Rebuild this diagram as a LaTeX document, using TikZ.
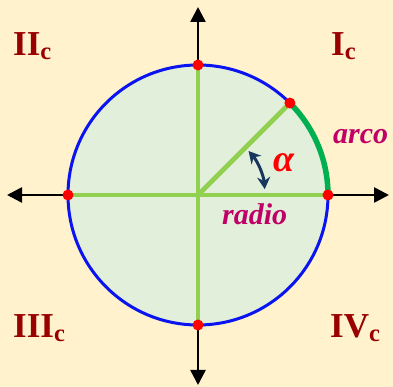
\documentclass[tikz,border=0pt]{standalone}
\usepackage{fontspec}
\setmainfont{Liberation Serif}
\usetikzlibrary{arrows.meta,calc}
\definecolor{bgc}{HTML}{FFF2CC}
\definecolor{fillc}{HTML}{E2EFDA}
\definecolor{circc}{HTML}{0A14F0}
\definecolor{radc}{HTML}{92D050}
\definecolor{arcc}{HTML}{00B050}
\definecolor{numc}{HTML}{990000}
\definecolor{labc}{HTML}{C00066}
\definecolor{angc}{HTML}{17375E}
\tikzset{
  axis/.style={line width=2.6pt, draw=black, {Triangle[length=15pt,width=15pt]}-{Triangle[length=15pt,width=15pt]}},
  radline/.style={line width=4.8pt, draw=radc},
  dot/.style={circle, fill=red, inner sep=0pt, minimum size=11pt},
  quad/.style={text=numc, font=\bfseries\fontsize{35}{35}\selectfont, anchor=base west, inner sep=0pt},
  lab/.style={text=labc, font=\bfseries\itshape\fontsize{30}{30}\selectfont, anchor=base west, inner sep=0pt},
}
\begin{document}
\begin{tikzpicture}[x=1pt,y=1pt]
\fill[bgc] (0,0) rectangle (393,387);
\useasboundingbox (0,0) rectangle (393,387);
\coordinate (O) at (198,192);
\fill[fillc] (O) circle (130);
\coordinate (L) at (7,192);
\coordinate (Rr) at (389,192);
\coordinate (T) at (198,380);
\coordinate (B) at (198,2);
\draw[axis] (L) -- (Rr);
\draw[axis] (B) -- (T);
\draw[radline] (O) -- ++(0:130);
\draw[radline] (O) -- ++(180:130);
\draw[radline] (O) -- ++(90:130);
\draw[radline] (O) -- ++(-90:130);
\draw[radline] (O) -- ++(45:130);
\draw[line width=3pt, draw=circc] (O) circle (130);
\draw[line width=5.5pt, draw=arcc] ($(O)+(0:130)$) arc[start angle=0,end angle=45,radius=130];
\node[dot] (d0) at ($(O)+(0:130)$) {};
\node[dot] (d45) at ($(O)+(45:130)$) {};
\node[dot] (d90) at ($(O)+(90:130)$) {};
\node[dot] (d180) at ($(O)+(180:130)$) {};
\node[dot] (d270) at ($(O)+(270:130)$) {};
\draw[line width=3pt, draw=angc, {Stealth[length=12pt,width=13pt]}-{Stealth[length=12pt,width=13pt]}] ($(O)+(5:67)$) arc[start angle=5,end angle=41,radius=67];
\node[quad] (q2) at (13,331) {II\textsubscript{c}};
\node[quad] (q1) at (331,331) {I\textsubscript{c}};
\node[quad] (q3) at (13,49) {III\textsubscript{c}};
\node[quad] (q4) at (330,49) {IV\textsubscript{c}};
\node[lab] (arco) at (333,243) {arco};
\node[lab] (radio) at (222,162) {radio};
\node[text=red, font=\bfseries\itshape\fontsize{38}{38}\selectfont, anchor=base west, inner sep=0pt] (alpha) at (273,215) {α};
\end{tikzpicture}
\end{document}
